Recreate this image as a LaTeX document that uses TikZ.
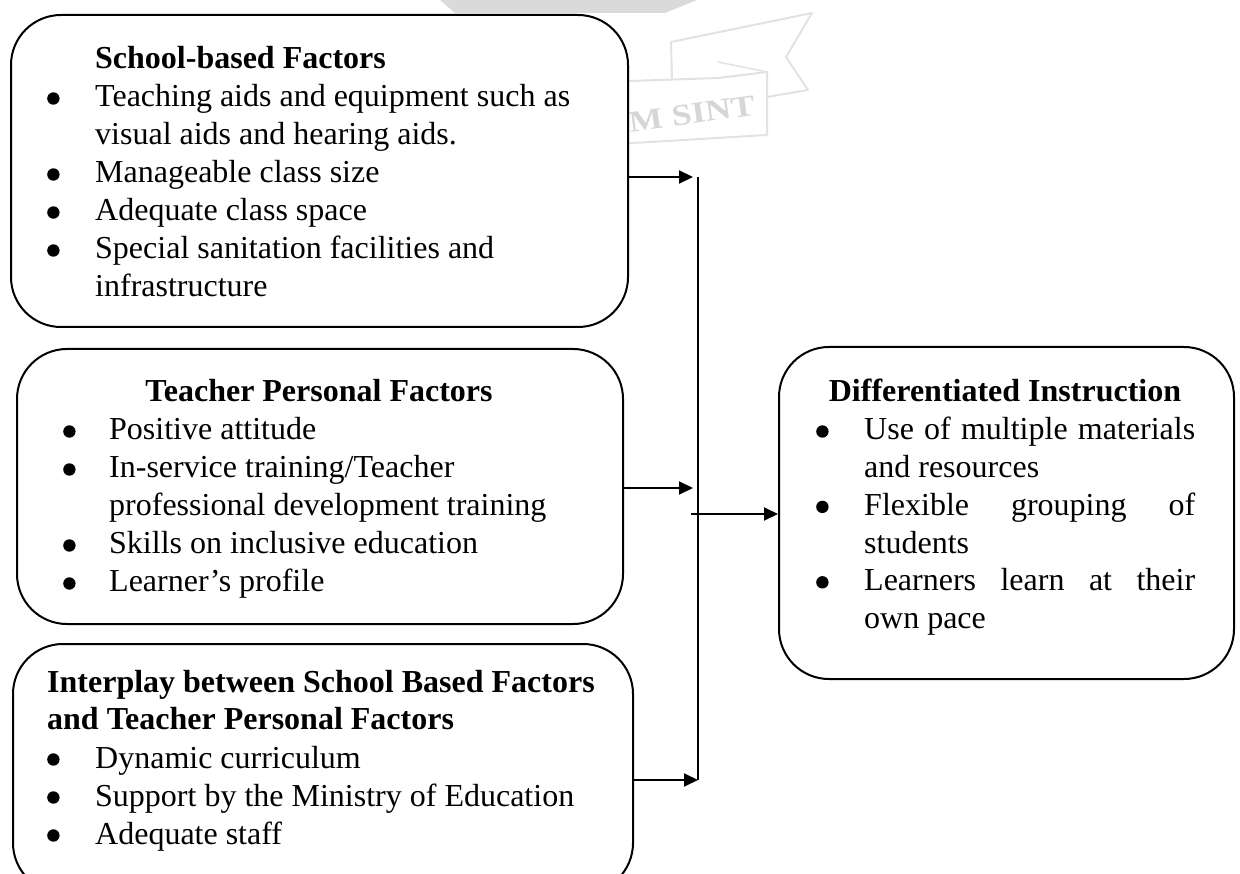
\documentclass[tikz,border=0pt]{standalone}
\usepackage{fontspec}
\setmainfont{Liberation Serif}
\usetikzlibrary{arrows.meta}
\definecolor{wmfill}{RGB}{218,218,218}
\definecolor{wmline}{RGB}{226,226,226}
\definecolor{wmtext}{RGB}{214,214,214}
% round list bullet in a box as wide as the indent of the item text
\newcommand\dotbox[1]{\makebox[#1][l]{\tikz[baseline=0pt]\fill (6pt,8.5pt) circle (6.2pt);}}
\newcommand\blt{\dotbox{47pt}}
\newcommand\bltn{\dotbox{45pt}}
\begin{document}
\begin{tikzpicture}[x=1pt,y=-1pt,
  card/.style={draw=black,line width=2pt,fill=white,rounded corners=50pt,
    inner sep=0pt,anchor=north west},
  link/.style={line width=2pt,-{Triangle[length=14pt,width=13pt]}},
  wire/.style={line width=2pt},
  txt/.style={inner sep=0pt,anchor=base west,font=\fontsize{32}{38}\selectfont},
  head/.style={inner sep=0pt,anchor=base,font=\fontsize{32}{38}\selectfont\bfseries}]
\useasboundingbox (0,0) rectangle (1240,874);

% faint watermark ribbon behind the boxes
\fill[wmfill] (440,0) -- (697,0) -- (665,13) -- (455,13) -- cycle;
\draw[wmline,line width=2pt,line join=round]
  (672,80) -- (671,42) -- (812,13) -- (786,57) -- (808,90) -- (767,97);
\draw[wmline,line width=2pt,line join=round]
  (600,82) -- (718,78) -- (767,72) -- (767,135) -- (600,145);
\draw[wmline,line width=1.5pt] (718,62) -- (767,72);
\node[text=wmtext,font=\fontsize{30}{30}\selectfont\bfseries,rotate=8,xscale=1.2,inner sep=0pt]
  (wm) at (692,114) {M SINT};

% boxes
\node[card,minimum width=617pt,minimum height=312pt] (b1) at (10,14) {};
\node[card,minimum width=606pt,minimum height=275pt] (b2) at (16,348) {};
\node[card,minimum width=620pt,minimum height=249pt] (b3) at (12,643) {};
\node[card,minimum width=455pt,minimum height=332pt] (b4) at (778,346) {};

% School-based factors
\node[txt,font=\fontsize{32}{38}\selectfont\bfseries] (t1) at (95,69) {School-based Factors};
\node[txt] (l1) at (47,107) {\vtop{\hsize=570pt\parindent=0pt\baselineskip=38pt
  \dotbox{48pt}Teaching aids and equipment such as\par
  \hspace*{48pt}visual aids and hearing aids.\par
  \dotbox{48pt}Manageable class size\par
  \dotbox{48pt}Adequate class space\par
  \dotbox{48pt}Special sanitation facilities and\par
  \hspace*{48pt}infrastructure}};

% Teacher personal factors
\node[head] (t2) at (319,402) {Teacher Personal Factors};
\node[txt] (l2) at (63,440) {\vtop{\hsize=550pt\parindent=0pt\baselineskip=38pt
  \dotbox{46pt}Positive attitude\par
  \dotbox{46pt}In-service training/Teacher\par
  \hspace*{46pt}professional development training\par
  \dotbox{46pt}Skills on inclusive education\par
  \dotbox{46pt}Learner’s profile}};

% Interplay
\node[txt,font=\fontsize{32}{37}\selectfont\bfseries] (t3) at (47,692) {\vtop{\hsize=580pt\parindent=0pt\baselineskip=37pt
  Interplay between School Based Factors\par
  and Teacher Personal Factors}};
\node[txt] (l3) at (47,768) {\vtop{\hsize=570pt\parindent=0pt\baselineskip=38pt
  \dotbox{48pt}Dynamic curriculum\par
  \dotbox{48pt}Support by the Ministry of Education\par
  \dotbox{48pt}Adequate staff}};

% Differentiated instruction
\node[head] (t4) at (1005,402) {Differentiated Instruction};
\node[txt] (l4) at (816,440) {\vtop{\hsize=400pt\parindent=0pt\baselineskip=37.7pt
  \dotbox{48pt}\makebox[331pt][s]{Use of multiple materials}\par
  \hspace*{48pt}and resources\par
  \dotbox{48pt}\makebox[331pt][s]{Flexible grouping of}\par
  \hspace*{48pt}students\par
  \dotbox{48pt}\makebox[331pt][s]{Learners learn at their}\par
  \hspace*{48pt}own pace}};

% connectors
\coordinate (p1) at (693,177);
\coordinate (p2) at (693,488);
\coordinate (j1) at (698,177);
\coordinate (j3) at (698,780);
\coordinate (jm) at (691,514);
\draw[link] (b1.east |- p1) -- (p1);
\draw[link] (b2.east |- p2) -- (p2);
\draw[link] (b3.east |- j3) -- (j3);
\draw[wire] (j1) -- (j3);
\draw[link] (jm) -- (b4.west |- jm);
\end{tikzpicture}
\end{document}
